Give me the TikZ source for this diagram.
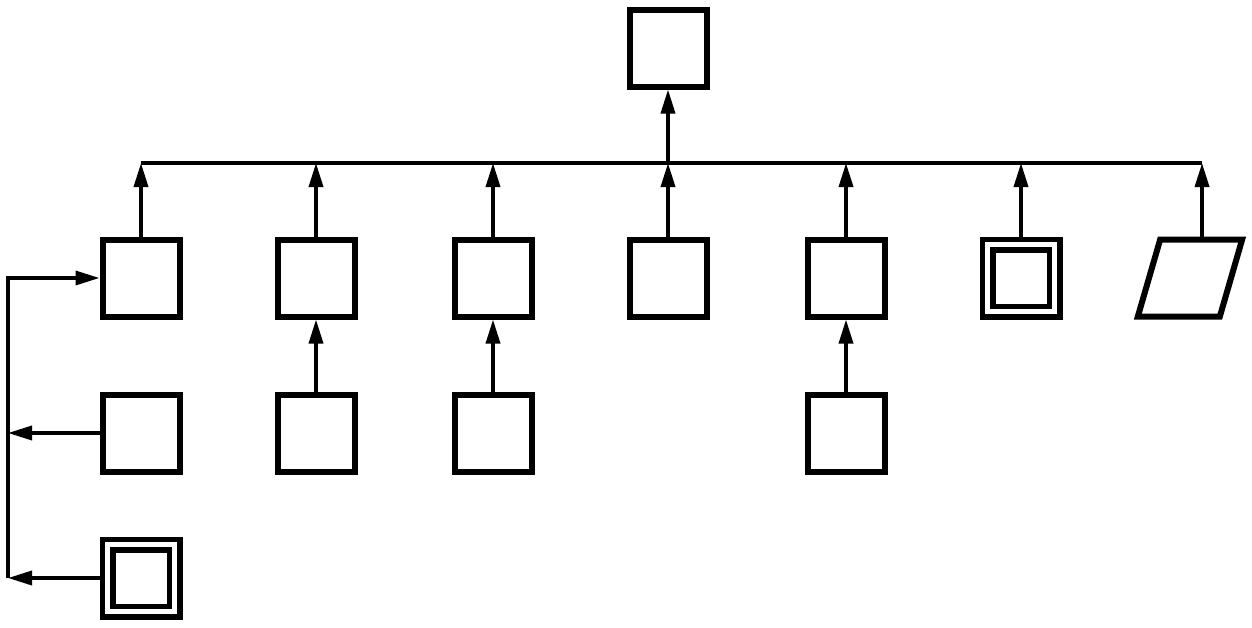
\documentclass[tikz,border=0pt]{standalone}
\usetikzlibrary{arrows.meta}

\tikzset{
  box/.style={draw,line width=3pt,minimum size=38.5pt,inner sep=0pt},
  dbox/.style={draw,line width=2.75pt,double,double distance=2.5pt,minimum size=33.5pt,inner sep=0pt},
  para/.style={box,minimum width=41pt,transform shape},
  arr/.style={line width=1.75pt,-{Triangle[length=12pt,width=7pt]}},
  line/.style={line width=1.75pt}
}

\begin{document}
\begin{tikzpicture}[x=0.5pt,y=-0.5pt]
    \useasboundingbox (0,0) rectangle (1252,627);

    % Top box
    \node[box] (top) at (668,48) {};

    % First row
    \node[box] (a1) at (141,278) {};
    \node[box] (a2) at (316,278) {};
    \node[box] (a3) at (493,278) {};
    \node[box] (a4) at (668,278) {};
    \node[box] (a5) at (846,278) {};
    \node[dbox] (a6) at (1021,278) {};
    \begin{scope}[shift={(1190,278)},xslant=0.29]
        \node[para] (a7) at (0,0) {};
    \end{scope}

    % Second row
    \node[box] (b1) at (141,433) {};
    \node[box] (b2) at (316,433) {};
    \node[box] (b3) at (493,433) {};
    \node[box] (b5) at (846,433) {};

    % Third row
    \node[dbox] (c1) at (141,578) {};

    % Bus line
    \coordinate (busL) at (141,163);
    \coordinate (busR) at (a7.north |- busL);
    \draw[line] (busL) -- (busR);
    \draw[arr] (a4.north |- busL) -- (top.south);

    % Row one into the bus
    \foreach \n in {a1,a2,a3,a4,a5,a6,a7}
        \draw[arr] (\n.north) -- (\n.north |- busL);

    % Second row into the first
    \foreach \n in {2,3,5}
        \draw[arr] (b\n.north) -- (a\n.south);

    % Loop on the left
    \coordinate (lt) at (8,278);
    \coordinate (lb) at (8,578);
    \draw[arr] (lb) -- (lt) -- (a1.west);
    \draw[arr] (b1.west) -- (b1.west -| lt);
    \draw[arr] (c1.west) -- (c1.west -| lt);
\end{tikzpicture}
\end{document}
